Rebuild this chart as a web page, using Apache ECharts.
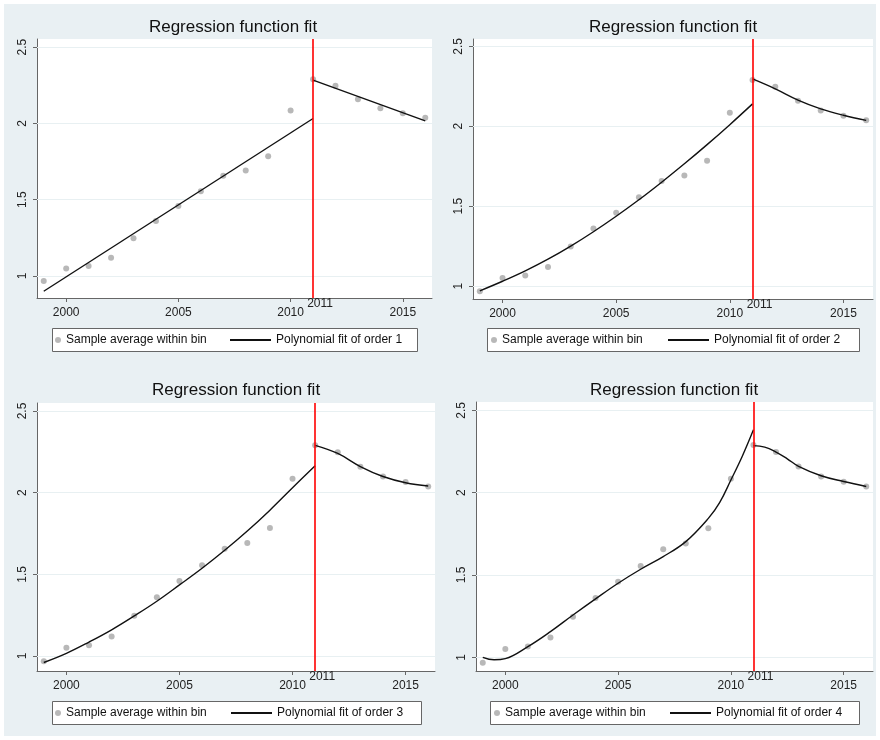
<!DOCTYPE html>
<html>
<head>
<meta charset="utf-8">
<title>Regression function fit</title>
<script src="https://cdn.jsdelivr.net/npm/echarts@6/dist/echarts.min.js"></script>
<style>
  html, body { margin: 0; padding: 0; background: #fff; }
  #bg { position: absolute; left: 4px; top: 4px; width: 872px; height: 732px; background: #e9f0f3; }
  #chart { position: absolute; left: 0; top: 0; width: 880px; height: 740px; }
</style>
</head>
<body>
<div id="bg"></div>
<div id="chart"></div>
<script>
// bin means (same in all four panels)
const years = [1999, 2000, 2001, 2002, 2003, 2004, 2005, 2006, 2007, 2008, 2009, 2010, 2011, 2012, 2013, 2014, 2015, 2016]
const binMeans = [0.967, 1.05, 1.066, 1.12, 1.247, 1.36, 1.459, 1.555, 1.657, 1.692, 1.784, 2.085, 2.29, 2.247, 2.159, 2.099, 2.066, 2.037]

const cutoff = 2011
const yTicks = [1, 1.5, 2, 2.5]
const xTicks = [2000, 2005, 2010, 2015]

// fitted curves (left and right of the cutoff)
const fit1LeftX = [1999, 2011]
const fit1Left = [0.90, 2.032]
const fit1RightX = [2011, 2016]
const fit1Right = [2.283, 2.017]

const fit2LeftX = [1999, 2000, 2001, 2002, 2003, 2004, 2005, 2006, 2007, 2008, 2009, 2010, 2011]
const fit2Left = [0.97, 1.03, 1.095, 1.168, 1.25, 1.34, 1.437, 1.54, 1.65, 1.765, 1.885, 2.01, 2.14]
const fit2RightX = [2011, 2012, 2013, 2014, 2015, 2016]
const fit2Right = [2.296, 2.234, 2.164, 2.109, 2.069, 2.037]

const fit3LeftX = [1999, 2000, 2001, 2002, 2003, 2004, 2005, 2006, 2007, 2008, 2009, 2010, 2011]
const fit3Left = [0.96, 1.016, 1.085, 1.16, 1.245, 1.335, 1.435, 1.537, 1.647, 1.765, 1.893, 2.03, 2.165]
const fit3RightX = [2011, 2012, 2013, 2014, 2015, 2016]
const fit3Right = [2.29, 2.24, 2.16, 2.099, 2.061, 2.041]

const fit4LeftX = [1999, 1999.5, 2000, 2001, 2002, 2003, 2004, 2005, 2006, 2007, 2008, 2009, 2009.5, 2010, 2010.5, 2011]
const fit4Left = [1.0, 0.985, 0.992, 1.065, 1.156, 1.257, 1.355, 1.45, 1.535, 1.612, 1.703, 1.844, 1.94, 2.077, 2.22, 2.382]
const fit4RightX = [2011, 2011.5, 2012, 2012.5, 2013, 2014, 2015, 2016]
const fit4Right = [2.286, 2.277, 2.247, 2.206, 2.16, 2.103, 2.068, 2.038]

const yRanges = [[0.856, 2.553], [0.919, 2.546], [0.908, 2.549], [0.917, 2.551]]
const xRange = [1998.7, 2016.3]

const fits = [
  { order: 1, lx: fit1LeftX, ly: fit1Left, rx: fit1RightX, ry: fit1Right, smooth: false },
  { order: 2, lx: fit2LeftX, ly: fit2Left, rx: fit2RightX, ry: fit2Right, smooth: 0.4 },
  { order: 3, lx: fit3LeftX, ly: fit3Left, rx: fit3RightX, ry: fit3Right, smooth: 0.4 },
  { order: 4, lx: fit4LeftX, ly: fit4Left, rx: fit4RightX, ry: fit4Right, smooth: 0.4 }
]

// panel layout
const panels = [
  { grid: { left: 37, top: 39, width: 395, height: 259 }, titleX: 233, titleY: 19,
    box: [52, 328, 365, 23], dotX: 55, lineX: 230 },
  { grid: { left: 473, top: 39, width: 400, height: 260 }, titleX: 673, titleY: 19,
    box: [487, 328, 372, 23], dotX: 491, lineX: 668 },
  { grid: { left: 37, top: 403, width: 398, height: 268 }, titleX: 236, titleY: 382,
    box: [52, 701, 369, 23], dotX: 55, lineX: 231 },
  { grid: { left: 476, top: 402, width: 397, height: 269 }, titleX: 674, titleY: 382,
    box: [490, 701, 369, 23], dotX: 494, lineX: 670 }
]

const font = 'Liberation Sans, Arial, sans-serif'
const zip = (xs, ys) => xs.map((x, i) => [x, ys[i]])

const option = {
  animation: false,
  textStyle: { fontFamily: font },
  title: [],
  grid: [],
  xAxis: [],
  yAxis: [],
  legend: [],
  graphic: [],
  series: []
}

panels.forEach((p, i) => {
  const f = fits[i]
  const fitName = 'Polynomial fit of order ' + f.order

  option.title.push({
    text: 'Regression function fit',
    left: p.titleX,
    top: p.titleY,
    textAlign: 'center',
    padding: 0,
    textStyle: { fontSize: 17, fontWeight: 'normal', color: '#111', fontFamily: font }
  })

  option.grid.push(Object.assign({
    show: true,
    backgroundColor: '#ffffff',
    borderWidth: 0
  }, p.grid))

  option.xAxis.push({
    type: 'value',
    gridIndex: i,
    min: xRange[0],
    max: xRange[1],
    axisLine: { lineStyle: { color: '#666', width: 1 } },
    axisTick: { show: true, length: 4, customValues: xTicks, lineStyle: { color: '#666' } },
    axisLabel: {
      customValues: xTicks,
      formatter: v => String(v),
      fontSize: 12,
      color: '#222',
      margin: 9
    },
    splitLine: { show: false }
  })

  option.yAxis.push({
    type: 'value',
    gridIndex: i,
    min: yRanges[i][0],
    max: yRanges[i][1],
    axisLine: { show: true, lineStyle: { color: '#666', width: 1 } },
    axisTick: { show: true, length: 4, customValues: yTicks, lineStyle: { color: '#666' } },
    axisLabel: {
      customValues: yTicks,
      formatter: v => String(v),
      rotate: 90,
      fontSize: 12,
      color: '#222',
      margin: 8
    },
    splitLine: { show: false }
  })

  option.graphic.push({
    type: 'rect',
    shape: { x: p.box[0] + 0.5, y: p.box[1] + 0.5, width: p.box[2], height: p.box[3] },
    style: { fill: '#ffffff', stroke: '#666', lineWidth: 1 },
    z: 0,
    silent: true
  })

  const legendText = { fontSize: 12, color: '#111', fontFamily: font, lineHeight: 14 }
  option.legend.push({
    data: ['Sample average within bin'],
    left: p.dotX,
    top: p.box[1] + 5,
    padding: 0,
    itemWidth: 6,
    itemHeight: 6,
    itemGap: 0,
    selectedMode: false,
    textStyle: legendText,
    z: 5
  })
  option.legend.push({
    data: [{ name: fitName, icon: 'rect', itemStyle: { color: '#111' } }],
    left: p.lineX,
    top: p.box[1] + 5,
    padding: 0,
    itemWidth: 41,
    itemHeight: 2,
    itemGap: 0,
    selectedMode: false,
    textStyle: legendText,
    z: 5
  })

  option.series.push({
    name: 'Sample average within bin',
    type: 'scatter',
    xAxisIndex: i,
    yAxisIndex: i,
    data: zip(years, binMeans),
    symbol: 'circle',
    symbolSize: 6,
    itemStyle: { color: '#a6a6a6' },
    z: 2,
    markLine: {
      silent: true,
      symbol: ['none', 'none'],
      label: { show: false },
      lineStyle: { color: '#e8f0f2', width: 1, type: 'solid' },
      data: yTicks.map(v => ({ yAxis: v })),
      z: 1
    }
  })

  option.series.push({
    name: fitName,
    type: 'line',
    xAxisIndex: i,
    yAxisIndex: i,
    data: zip(f.lx, f.ly),
    smooth: f.smooth,
    symbol: 'none',
    lineStyle: { color: '#111', width: 1.4 },
    itemStyle: { color: '#111' },
    z: 3,
    markLine: {
      silent: true,
      symbol: ['none', 'none'],
      lineStyle: { color: '#ff0000', width: 1.6, type: 'solid' },
      label: {
        show: true,
        position: 'start',
        formatter: String(cutoff),
        distance: 0,
        fontSize: 12,
        color: '#222',
        padding: [0, 0, 0, 14]
      },
      data: [{ xAxis: cutoff }],
      z: 4
    }
  })

  option.series.push({
    name: fitName,
    type: 'line',
    xAxisIndex: i,
    yAxisIndex: i,
    data: zip(f.rx, f.ry),
    smooth: f.smooth,
    symbol: 'none',
    lineStyle: { color: '#111', width: 1.4 },
    itemStyle: { color: '#111' },
    z: 3
  })
})

const chart = echarts.init(document.getElementById('chart'))
chart.setOption(option)

window.addEventListener('resize', () => {
  chart.resize()
})
</script>
</body>
</html>
